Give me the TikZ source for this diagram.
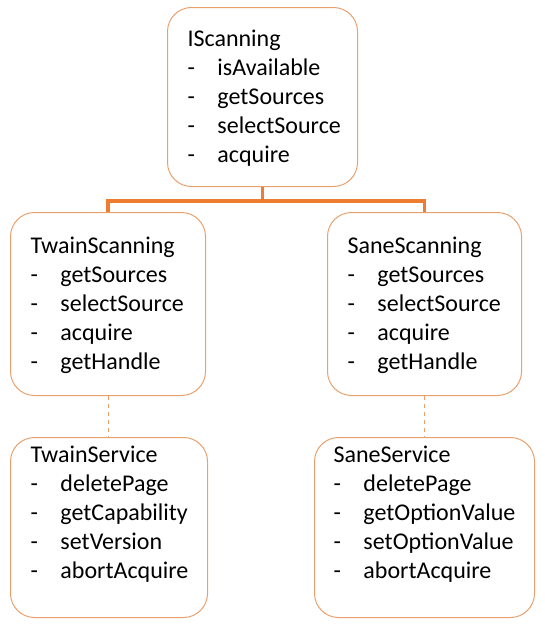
\documentclass[tikz,border=0pt]{standalone}
\usepackage{fontspec}
\setmainfont{Carlito}
\usepackage{xcolor}
\usepackage{tikz}
\definecolor{boxorange}{HTML}{E8A06C}
\definecolor{linkorange}{HTML}{ED7D31}

\newcommand{\itm}[1]{\makebox[22.5pt][l]{-}#1}

\tikzset{
  cls/.style={draw=boxorange, line width=0.75pt, rounded corners=18pt,
              anchor=north west, align=left, inner xsep=15pt, inner ysep=0pt,
              font=\fontsize{18}{21.75}\selectfont, text depth=87.5pt},
  link/.style={draw=linkorange, line width=2.4pt},
  impl/.style={draw=boxorange, line width=0.6pt, dashed}
}

\begin{document}
\begin{tikzpicture}[x=0.75pt, y=-0.75pt]
    \useasboundingbox (0,0) rectangle (544,628);

    % interface
    \node[cls, text width=142.5pt-30pt, minimum height=134.25pt] (isc) at (167,7) {%
      IScanning\\
      \itm{isAvailable}\\
      \itm{getSources}\\
      \itm{selectSource}\\
      \itm{acquire}};

    % implementations
    \node[cls, text width=146.25pt-30pt, minimum height=137.25pt] (tsc) at (10,212) {%
      TwainScanning\\
      \itm{getSources}\\
      \itm{selectSource}\\
      \itm{acquire}\\
      \itm{getHandle}};
    \node[cls, text width=145.5pt-30pt, minimum height=137.25pt] (ssc) at (327,212) {%
      SaneScanning\\
      \itm{getSources}\\
      \itm{selectSource}\\
      \itm{acquire}\\
      \itm{getHandle}};

    % services (text sits high in the box)
    \node[cls, text width=147.75pt-30pt, minimum height=135pt, text depth=110pt] (tsv) at (10,437) {%
      TwainService\\
      \itm{deletePage}\\
      \itm{getCapability}\\
      \itm{setVersion}\\
      \itm{abortAcquire}};
    \node[cls, inner xsep=14.25pt, text width=165pt-28.5pt, minimum height=135pt, text depth=110pt] (ssv) at (314,437) {%
      SaneService\\
      \itm{deletePage}\\
      \itm{getOptionValue}\\
      \itm{setOptionValue}\\
      \itm{abortAcquire}};

    \draw[link] (isc.south) -- ++(0,14) -| (tsc.north);
    \draw[link] (isc.south) -- ++(0,14) -| (ssc.north);
    \draw[impl] (tsc.south) -- (tsc.south |- tsv.north);
    \draw[impl] (ssc.south) -- (ssc.south |- ssv.north);
  \end{tikzpicture}
\end{document}
